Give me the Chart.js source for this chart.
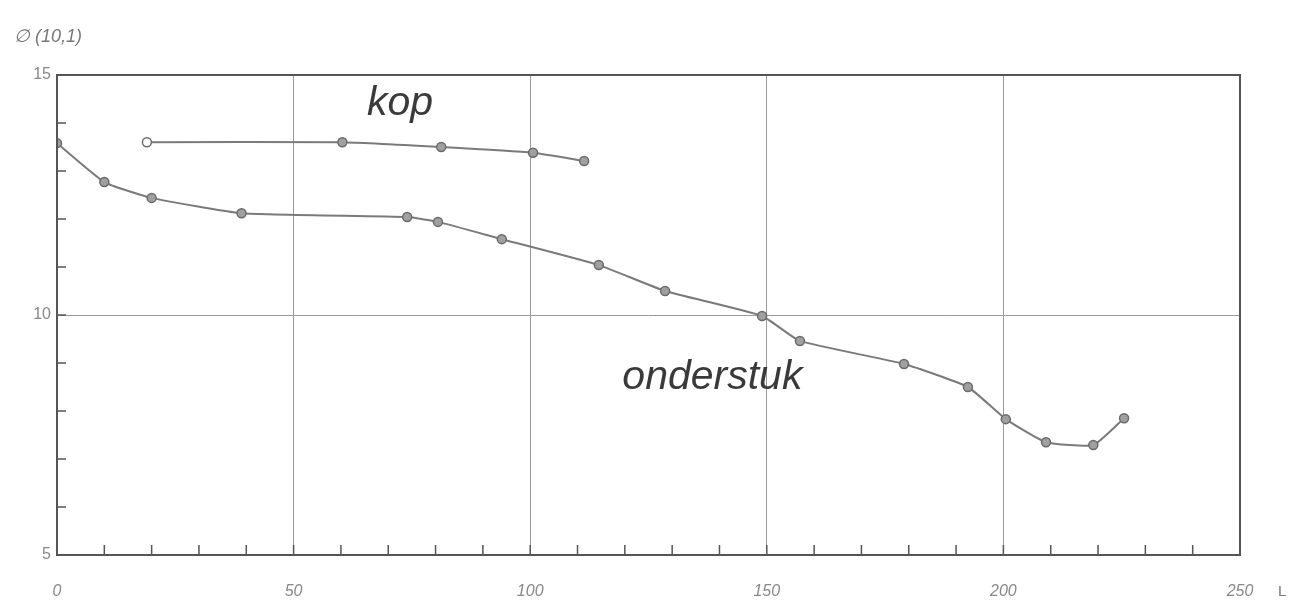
<!DOCTYPE html>
<html>
<head>
<meta charset="utf-8">
<script src="https://cdn.jsdelivr.net/npm/chart.js@4/dist/chart.umd.min.js"></script>
<style>
  body { margin: 0; background: #fff; }
  #wrap { width: 1290px; height: 604px; position: relative; }
</style>
</head>
<body>
<div id="wrap"><canvas id="chart" width="1290" height="604"></canvas></div>
<script>
// Data
const onderstukX = [0, 10, 20, 39, 74, 80.5, 94, 114.5, 128.5, 149, 157, 179, 192.5, 200.5, 209, 219, 225.5];
const onderstukY = [13.58, 12.77, 12.44, 12.12, 12.04, 11.94, 11.58, 11.04, 10.5, 9.98, 9.46, 8.98, 8.5, 7.83, 7.35, 7.29, 7.85];
const kopX = [19, 60.3, 81.2, 100.6, 111.4];
const kopY = [13.6, 13.6, 13.5, 13.38, 13.21];
const xLabels = [0, 50, 100, 150, 200, 250];
const yLabels = [5, 10, 15];

const lineColor = '#7a7a7a';

function toPoints(xs, ys) {
    return xs.map((x, i) => ({ x: x, y: ys[i] }));
}

// Frame, inward tick marks and text labels
const decorations = {
    id: 'decorations',
    afterDraw(chart) {
        const ctx = chart.ctx;
        const area = chart.chartArea;
        const xs = chart.scales.x;
        const ys = chart.scales.y;
        ctx.save();
        ctx.strokeStyle = '#555';
        ctx.lineWidth = 2;
        ctx.strokeRect(area.left, area.top, area.right - area.left, area.bottom - area.top);

        ctx.lineWidth = 1.5;
        ctx.beginPath();
        for (let v = 10; v < 250; v += 10) {
            const px = xs.getPixelForValue(v);
            ctx.moveTo(px, area.bottom);
            ctx.lineTo(px, area.bottom - 10);
        }
        for (let v = 6; v < 15; v += 1) {
            const py = ys.getPixelForValue(v);
            ctx.moveTo(area.left, py);
            ctx.lineTo(area.left + 9, py);
        }
        ctx.stroke();

        ctx.fillStyle = '#3a3a3a';
        ctx.font = 'italic 41px "Liberation Sans", Arial, sans-serif';
        ctx.textAlign = 'center';
        ctx.textBaseline = 'alphabetic';
        ctx.fillText('kop', xs.getPixelForValue(72.5), ys.getPixelForValue(14.17));
        ctx.fillText('onderstuk', xs.getPixelForValue(138.5), ys.getPixelForValue(8.45));

        ctx.fillStyle = '#777';
        ctx.font = 'italic 18px "Liberation Sans", Arial, sans-serif';
        ctx.textAlign = 'left';
        ctx.textBaseline = 'middle';
        ctx.fillText('\u2205 (10,1)', 14, 37);
        ctx.font = '15px "Liberation Sans", Arial, sans-serif';
        ctx.fillText('L', 1278, 592);
        ctx.restore();
    }
};

new Chart(document.getElementById('chart'), {
    type: 'scatter',
    data: {
        datasets: [
            {
                label: 'onderstuk',
                data: toPoints(onderstukX, onderstukY),
                showLine: true,
                borderColor: lineColor,
                borderWidth: 2,
                tension: 0.15,
                pointRadius: 4.5,
                pointBackgroundColor: '#a0a0a0',
                pointBorderColor: '#6a6a6a',
                pointBorderWidth: 1.5
            },
            {
                label: 'kop',
                data: toPoints(kopX, kopY),
                showLine: true,
                borderColor: lineColor,
                borderWidth: 2,
                tension: 0.15,
                pointRadius: 4.5,
                pointBackgroundColor: ['#ffffff', '#a0a0a0', '#a0a0a0', '#a0a0a0', '#a0a0a0'],
                pointBorderColor: '#6a6a6a',
                pointBorderWidth: 1.5
            }
        ]
    },
    options: {
        responsive: false,
        animation: false,
        layout: { padding: { left: 0, right: 50, top: 75, bottom: 0 } },
        plugins: {
            legend: { display: false },
            tooltip: { enabled: false }
        },
        scales: {
            x: {
                type: 'linear',
                min: 0,
                max: 250,
                afterFit(scale) { scale.height = 49; },
                afterBuildTicks(scale) {
                    scale.ticks = xLabels.map(v => ({ value: v }));
                },
                ticks: {
                    color: '#888',
                    font: { size: 16, style: 'italic', family: '"Liberation Sans", Arial, sans-serif' },
                    padding: 27
                },
                grid: { color: '#9a9a9a', lineWidth: 1, drawTicks: false },
                border: { display: false }
            },
            y: {
                type: 'linear',
                min: 5,
                max: 15,
                afterFit(scale) { scale.width = 57; },
                afterBuildTicks(scale) {
                    scale.ticks = yLabels.map(v => ({ value: v }));
                },
                ticks: {
                    color: '#888',
                    font: { size: 16, family: '"Liberation Sans", Arial, sans-serif' },
                    padding: 6
                },
                grid: { color: '#9a9a9a', lineWidth: 1, drawTicks: false },
                border: { display: false }
            }
        }
    },
    plugins: [decorations]
});
</script>
</body>
</html>
